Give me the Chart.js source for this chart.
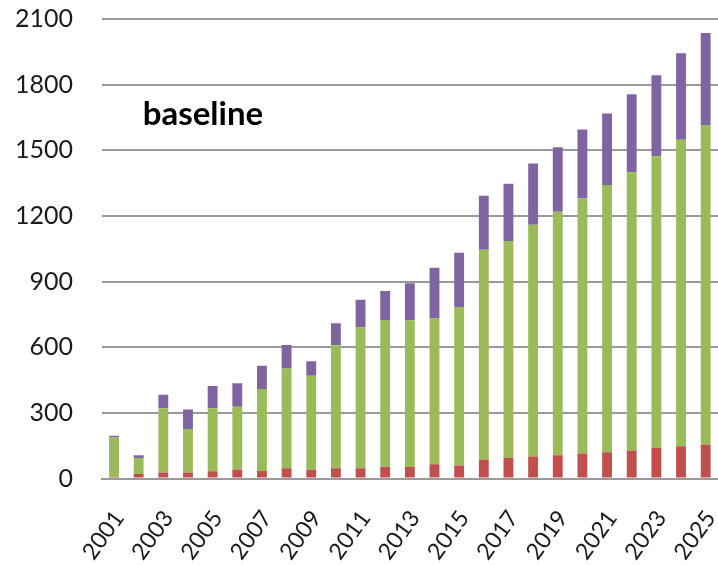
<!DOCTYPE html>
<html>
<head>
<meta charset="utf-8">
<title>baseline</title>
<script src="https://cdn.jsdelivr.net/npm/chart.js@4.4.1/dist/chart.umd.min.js"></script>
<style>
    html, body { margin: 0; padding: 0; background: #ffffff; }
    #wrap { width: 718px; height: 565px; position: relative; }
</style>
</head>
<body>
<div id="wrap"><canvas id="chart"></canvas></div>
<script>
// ============================================
// DANE
// ============================================
const years = ['2001', '2002', '2003', '2004', '2005', '2006', '2007', '2008', '2009', '2010',
    '2011', '2012', '2013', '2014', '2015', '2016', '2017', '2018', '2019', '2020',
    '2021', '2022', '2023', '2024', '2025'];

// dolna warstwa (czerwona)
const redValues = [8, 20, 27, 27, 33, 41, 34, 47, 40, 47,
    47, 54, 53, 65, 59, 87, 94, 100, 106, 114,
    120, 128, 141, 147, 155];

// srodkowa warstwa (zielona)
const greenValues = [179, 74, 294, 199, 288, 287, 375, 456, 430, 562,
    643, 670, 670, 666, 725, 959, 991, 1060, 1113, 1166,
    1221, 1272, 1332, 1401, 1460];

// gorna warstwa (fioletowa)
const purpleValues = [8, 12, 62, 89, 102, 107, 106, 107, 66, 101,
    127, 133, 169, 232, 248, 246, 262, 280, 295, 315,
    327, 356, 370, 395, 421];

const yTicks = [0, 300, 600, 900, 1200, 1500, 1800, 2100];
const chartLabel = 'baseline';

// ============================================
// napis "baseline" wewnatrz obszaru wykresu
// ============================================
const labelPlugin = {
    id: 'baselineLabel',
    afterDraw(chart) {
        const { ctx, chartArea } = chart;
        ctx.save();
        ctx.font = 'bold 33px Lato';
        ctx.fillStyle = '#000000';
        ctx.textBaseline = 'alphabetic';
        ctx.textAlign = 'left';
        ctx.fillText(chartLabel, chartArea.left + 41, 125);
        ctx.restore();
    }
};

const gridColor = '#9a9a9a';
const tickFont = { family: 'Lato', size: 25 };

const config = {
    type: 'bar',
    data: {
        labels: years,
        datasets: [
            { label: 'red', data: redValues, backgroundColor: '#c0504d' },
            { label: 'green', data: greenValues, backgroundColor: '#9bbb59' },
            { label: 'purple', data: purpleValues, backgroundColor: '#8064a2' }
        ]
    },
    options: {
        responsive: true,
        maintainAspectRatio: false,
        animation: false,
        devicePixelRatio: 1,
        layout: { padding: { left: 13, top: 19, right: 0, bottom: 0 } },
        plugins: {
            legend: { display: false },
            tooltip: { enabled: false }
        },
        datasets: {
            bar: { categoryPercentage: 1.0, barPercentage: 0.4, borderWidth: 0 }
        },
        scales: {
            x: {
                stacked: true,
                grid: { display: false, drawTicks: false },
                border: { display: true, color: gridColor, width: 2 },
                afterFit(scale) {
                    // stala wysokosc osi X, bez dodatkowych marginesow
                    scale.height = 86.5;
                    scale.paddingLeft = 0;
                    scale.paddingRight = 0;
                },
                ticks: {
                    color: '#1a1a1a',
                    font: { family: 'Lato', size: 23 },
                    autoSkip: false,
                    maxRotation: 54,
                    minRotation: 54,
                    padding: 27,
                    labelOffset: 5,
                    callback: function (val, i) {
                        return i % 2 === 0 ? years[i] : '';
                    }
                }
            },
            y: {
                stacked: true,
                min: 0,
                max: 2100,
                afterBuildTicks(scale) {
                    scale.ticks = yTicks.map(v => ({ value: v }));
                },
                afterFit(scale) {
                    scale.width = 88.7;
                    scale.paddingTop = 0;
                    scale.paddingBottom = 0;
                },
                grid: { color: gridColor, lineWidth: 2, drawTicks: false },
                border: { display: false },
                ticks: {
                    color: '#1a1a1a',
                    font: tickFont,
                    padding: 28.7,
                    callback: function (val) {
                        return String(val);
                    }
                }
            }
        }
    },
    plugins: [labelPlugin]
};

new Chart(document.getElementById('chart').getContext('2d'), config);
</script>
</body>
</html>
